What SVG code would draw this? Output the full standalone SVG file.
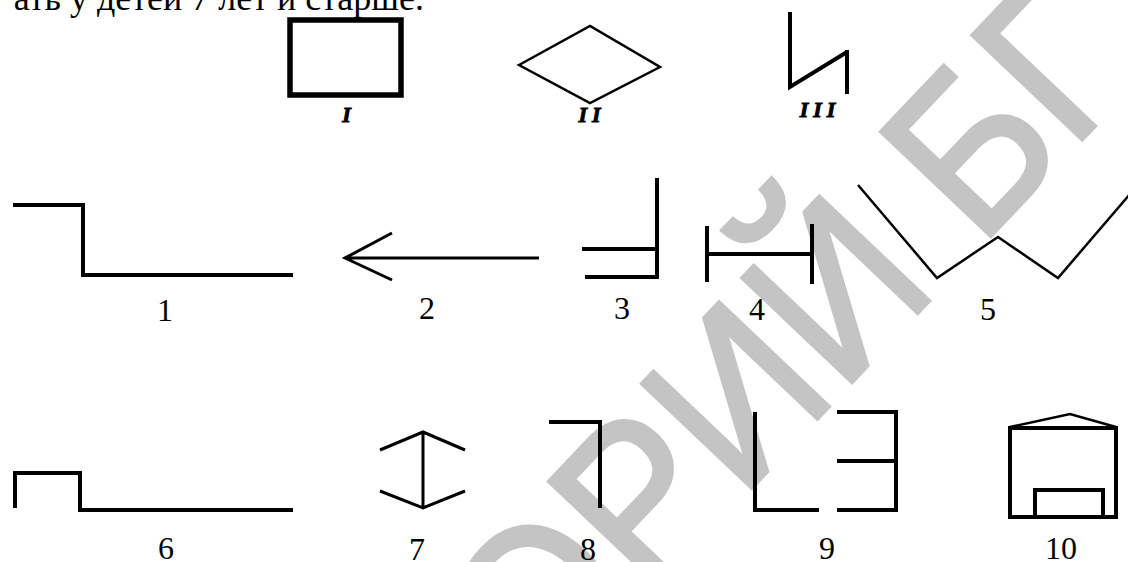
<svg xmlns="http://www.w3.org/2000/svg" width="1128" height="562" viewBox="0 0 1128 562">
<style>
.ln{fill:none;stroke:#000;stroke-width:4;stroke-linecap:butt;stroke-linejoin:miter}
.t2{stroke-width:2.5}
.t3{stroke-width:3}
.lbl{font-family:"Liberation Serif","Times New Roman",serif;font-size:32px;fill:#000;text-anchor:middle}
.rom{font-family:"Liberation Serif","Times New Roman",serif;font-size:22px;font-weight:bold;font-style:italic;fill:#000;stroke:#000;stroke-width:0.9;text-anchor:middle;letter-spacing:5px}
.wm{font-family:"Liberation Sans",Arial,sans-serif;font-size:220px;fill:#c4c4c4;stroke:#c4c4c4;stroke-width:4}
</style>
<rect width="1128" height="562" fill="#fff"/>
<g id="watermark">
<text class="wm" transform="translate(539,712) rotate(-46.5) scale(0.92,1)">ОРИЙ БГ</text>
</g>
<text x="424" y="10" font-family="Liberation Serif, Times New Roman, serif" font-size="36" text-anchor="end">ать у детей 7 лет и старше.</text>
<g id="figI">
<rect x="290" y="20" width="111" height="75" class="ln" style="stroke-width:5.5"/>
<text class="rom" x="349" y="122">I</text>
</g>
<g id="figII">
<path class="ln t2" d="M519,65 L590,26 L660,67 L590,103 Z"/>
<text class="rom" x="592" y="122">II</text>
</g>
<g id="figIII">
<path class="ln" d="M790,12 V87 L847,52"/>
<path class="ln" d="M847,50 V94"/>
<text class="rom" x="820" y="117">III</text>
</g>
<g id="fig1">
<path class="ln" d="M13,205 H83 V275 H293"/>
<text class="lbl" x="165" y="321">1</text>
</g>
<g id="fig2">
<path class="ln t3" d="M345,258 H539 M392,233 L345,258 L392,280"/>
<text class="lbl" x="427" y="319">2</text>
</g>
<g id="fig3">
<path class="ln" d="M657,178 V277 H585 M582,249 H657"/>
<text class="lbl" x="622" y="319">3</text>
</g>
<g id="fig4">
<path class="ln" d="M707,226 V282 M812,224 V284 M707,254 H812"/>
<text class="lbl" x="757" y="320">4</text>
</g>
<g id="fig5">
<path class="ln t2" d="M858,185 L937,278 L998,237 L1058,278 L1130,194"/>
<text class="lbl" x="988" y="320">5</text>
</g>
<g id="fig6">
<path class="ln" d="M15,508 V473 H80 V510 H293"/>
<text class="lbl" x="166" y="559">6</text>
</g>
<g id="fig7">
<path class="ln t3" d="M423,432 V508 M380,450 L423,432 L465,450 M380,491 L423,508 L465,491"/>
<text class="lbl" x="417" y="560">7</text>
</g>
<g id="fig8">
<path class="ln" d="M549,422 H600 V508"/>
<text class="lbl" x="588" y="560">8</text>
</g>
<g id="fig9">
<path class="ln" d="M755,412 V510 H819 M837,412 H896 V510 H837 M837,461 H896"/>
<text class="lbl" x="827" y="559">9</text>
</g>
<g id="fig10">
<path class="ln" d="M1010,428 V517 H1116 V428 Z"/>
<path class="ln t2" d="M1010,427 L1070,414 L1116,427"/>
<path class="ln" d="M1035,517 V490 H1103 V517"/>
<text class="lbl" x="1061" y="559">10</text>
</g>
</svg>
